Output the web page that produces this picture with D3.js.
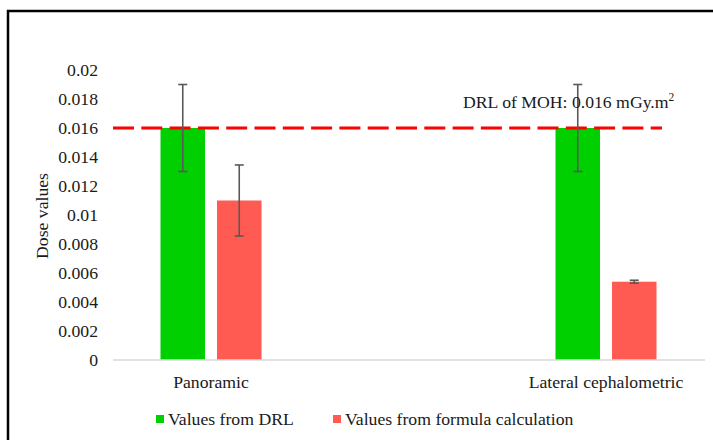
<!DOCTYPE html>
<head>
  <meta charset="utf-8">
  <script src="https://d3js.org/d3.v7.min.js"></script>
  <style>
    body { margin:0; background:#fff; }
    svg { display:block; }
  </style>
</head>
<body>
  <script>
    // chart data
    var categories = ["Panoramic", "Lateral cephalometric"],
        series = ["Values from DRL", "Values from formula calculation"],
        drlValues = [0.016, 0.016],
        drlErrors = [0.003, 0.003],
        formulaValues = [0.011, 0.0054],
        formulaErrors = [0.00245, 0.0001],
        yTicks = [0, 0.002, 0.004, 0.006, 0.008, 0.01, 0.012, 0.014, 0.016, 0.018, 0.02],
        yTickLabels = ["0", "0.002", "0.004", "0.006", "0.008", "0.01", "0.012", "0.014", "0.016", "0.018", "0.02"],
        drlLimit = 0.016;

    var colors = ["#00cf00", "#ff5b53"];
    var W = 713, H = 440;
    var FONT = "'Liberation Serif', 'Times New Roman', 'DejaVu Serif', serif";

    var svg = d3.select("body").append("svg")
        .attr("width", W).attr("height", H)
        .attr("font-family", FONT);

    // outer frame (cut off on the right and bottom like the source)
    svg.append("rect")
        .attr("x", 8).attr("y", 11)
        .attr("width", 760).attr("height", 480)
        .attr("fill", "none").attr("stroke", "#000").attr("stroke-width", 2.5);

    var y = d3.scaleLinear().domain([0, 0.02]).range([360, 70]);
    var x0 = d3.scaleBand().domain(categories).range([13.5, 803.5]);
    var x1 = d3.scaleBand().domain(series).range([-50.5, 50.5]).paddingInner(0.212);

    var rows = categories.map(function(c, i) {
      return [
        { cat: c, s: series[0], v: drlValues[i], e: drlErrors[i], color: colors[0] },
        { cat: c, s: series[1], v: formulaValues[i], e: formulaErrors[i], color: colors[1] }
      ];
    });
    var flat = d3.merge(rows);

    function label(sel) {
      return sel.style("font-family", FONT).style("font-size", "17.7px").attr("fill", "#1a1a1a");
    }

    // y tick labels
    svg.append("g").selectAll("text").data(yTicks)
      .enter().append("text")
        .attr("x", 98)
        .attr("y", function(d) { return y(d); })
        .attr("dy", "0.35em")
        .attr("text-anchor", "end")
        .call(label)
        .text(function(d, i) { return yTickLabels[i]; });

    // y title
    svg.append("text")
        .attr("transform", "translate(48,216) rotate(-90)")
        .attr("text-anchor", "middle")
        .call(label)
        .text("Dose values");

    // bars
    var cx = function(d) { return x0(d.cat) + x0.bandwidth() / 2 + x1(d.s); };
    svg.append("g").selectAll("rect").data(flat)
      .enter().append("rect")
        .attr("x", cx)
        .attr("y", function(d) { return y(d.v); })
        .attr("width", x1.bandwidth())
        .attr("height", function(d) { return y(0) - y(d.v); })
        .attr("fill", function(d) { return d.color; });

    // x axis line
    svg.append("line")
        .attr("x1", 113).attr("x2", 705)
        .attr("y1", y(0)).attr("y2", y(0))
        .attr("stroke", "#d9d9d9").attr("stroke-width", 1.5);

    // DRL dashed line
    svg.append("line")
        .attr("x1", 113).attr("x2", 662)
        .attr("y1", y(drlLimit)).attr("y2", y(drlLimit))
        .attr("stroke", "#ff0000").attr("stroke-width", 3)
        .attr("stroke-dasharray", "21,7.3");

    // error bars
    var eb = svg.append("g").selectAll("g").data(flat)
      .enter().append("g")
        .attr("stroke", "#595959").attr("stroke-width", 1.6);
    var mid = function(d) { return cx(d) + x1.bandwidth() / 2; };
    eb.append("line")
        .attr("x1", mid).attr("x2", mid)
        .attr("y1", function(d) { return y(d.v + d.e); })
        .attr("y2", function(d) { return y(d.v - d.e); });
    eb.append("line")
        .attr("x1", function(d) { return mid(d) - 4.5; })
        .attr("x2", function(d) { return mid(d) + 4.5; })
        .attr("y1", function(d) { return y(d.v + d.e); })
        .attr("y2", function(d) { return y(d.v + d.e); });
    eb.append("line")
        .attr("x1", function(d) { return mid(d) - 4.5; })
        .attr("x2", function(d) { return mid(d) + 4.5; })
        .attr("y1", function(d) { return y(d.v - d.e); })
        .attr("y2", function(d) { return y(d.v - d.e); });

    // DRL label
    var lbl = svg.append("text")
        .attr("x", 463).attr("y", 108)
        .call(label)
        .text("DRL of MOH: 0.016 mGy.m");
    lbl.append("tspan")
        .attr("dy", -7)
        .style("font-size", "11.5px")
        .text("2");

    // category labels
    svg.append("g").selectAll("text").data(categories)
      .enter().append("text")
        .attr("x", function(d) { return x0(d) + x0.bandwidth() / 2; })
        .attr("y", 388)
        .attr("text-anchor", "middle")
        .call(label)
        .text(function(d) { return d; });

    // legend
    var legX = [156, 333];
    var leg = svg.append("g").selectAll("g").data(series)
      .enter().append("g")
        .attr("transform", function(d, i) { return "translate(" + legX[i] + ",415)"; });
    leg.append("rect")
        .attr("width", 8).attr("height", 8)
        .attr("fill", function(d, i) { return colors[i]; });
    leg.append("text")
        .attr("x", 12).attr("y", 10)
        .call(label)
        .text(function(d) { return d; });
  </script>
</body>
</html>
